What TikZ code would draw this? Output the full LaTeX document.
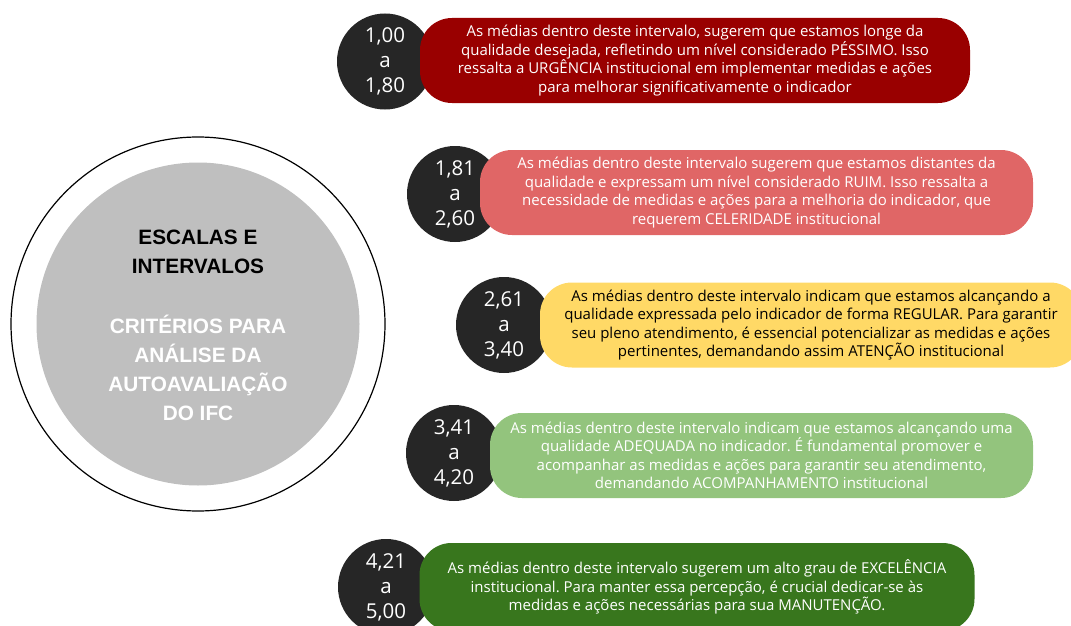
\documentclass[tikz,border=0pt]{standalone}
\usepackage{fontspec}
\setmainfont{Open Sans}
\newfontfamily\arialfont{Liberation Sans}
\frenchspacing

\definecolor{pessimo}{HTML}{990000}
\definecolor{ruim}{HTML}{E06666}
\definecolor{regular}{HTML}{FFD966}
\definecolor{adequado}{HTML}{93C47D}
\definecolor{excelente}{HTML}{38761D}
\definecolor{badgegray}{HTML}{262626}
\definecolor{cinza}{HTML}{BFBFBF}

\begin{document}
\begin{tikzpicture}[x=1pt, y=-1pt,
faixa/.style={rectangle, rounded corners=32pt, minimum height=85pt, inner sep=0pt, align=center, text=white, font=\fontsize{15}{18.5}\selectfont},
badge/.style={circle, fill=badgegray, minimum size=96pt, inner sep=0pt, align=center, text=white, font=\fontsize{20.5}{25}\selectfont},
titulo/.style={align=center, font=\arialfont\bfseries\fontsize{20.8}{29}\selectfont}]

\useasboundingbox (0,0) rectangle (1071,626);
\clip (0,0) rectangle (1071,626);

% central circle
\node[circle, draw=black, line width=1.2pt, minimum size=374pt, inner sep=0pt] (anel) at (198,324) {};
\node[circle, fill=cinza, minimum size=323pt, inner sep=0pt] (centro) at (198,324) {};
\node[titulo, text=black] (escalas) at (198,252) {ESCALAS E\\INTERVALOS};
\node[titulo, text=white] (criterios) at (198,368) {CRITÉRIOS PARA\\ANÁLISE DA\\AUTOAVALIAÇÃO\\DO IFC};

% badges
\node[badge] (b1) at (385,61.5) {1,00\\a\\1,80};
\node[badge] (b2) at (455,194) {1,81\\a\\2,60};
\node[badge] (b3) at (504,325) {2,61\\a\\3,40};
\node[badge] (b4) at (454,453) {3,41\\a\\4,20};
\node[badge] (b5) at (386,587) {4,21\\a\\5,00};

% faixas
\node[faixa, fill=pessimo, minimum width=550pt] (f1) at (695,60.5) {As médias dentro deste intervalo, sugerem que estamos longe da\\qualidade desejada, refletindo um nível considerado PÉSSIMO. Isso\\ressalta a URGÊNCIA institucional em implementar medidas e ações\\para melhorar significativamente o indicador};
\node[faixa, fill=ruim, minimum width=553pt] (f2) at (756.5,192.5) {As médias dentro deste intervalo sugerem que estamos distantes da\\qualidade e expressam um nível considerado RUIM. Isso ressalta a\\necessidade de medidas e ações para a melhoria do indicador, que\\requerem CELERIDADE institucional};
\node[faixa, fill=regular, text=black, minimum width=542pt] (f3) at (811,325) {As médias dentro deste intervalo indicam que estamos alcançando a\\qualidade expressada pelo indicador de forma REGULAR. Para garantir\\seu pleno atendimento, é essencial potencializar as medidas e ações\\pertinentes, demandando assim ATENÇÃO institucional};
\node[faixa, fill=adequado, minimum width=543pt] (f4) at (761.5,455.5) {As médias dentro deste intervalo indicam que estamos alcançando uma\\qualidade ADEQUADA no indicador. É fundamental promover e\\acompanhar as medidas e ações para garantir seu atendimento,\\demandando ACOMPANHAMENTO institucional};
\node[faixa, fill=excelente, minimum width=555pt, minimum height=88pt] (f5) at (697,587) {As médias dentro deste intervalo sugerem um alto grau de EXCELÊNCIA\\institucional. Para manter essa percepção, é crucial dedicar-se às\\medidas e ações necessárias para sua MANUTENÇÃO.};
\end{tikzpicture}
\end{document}
